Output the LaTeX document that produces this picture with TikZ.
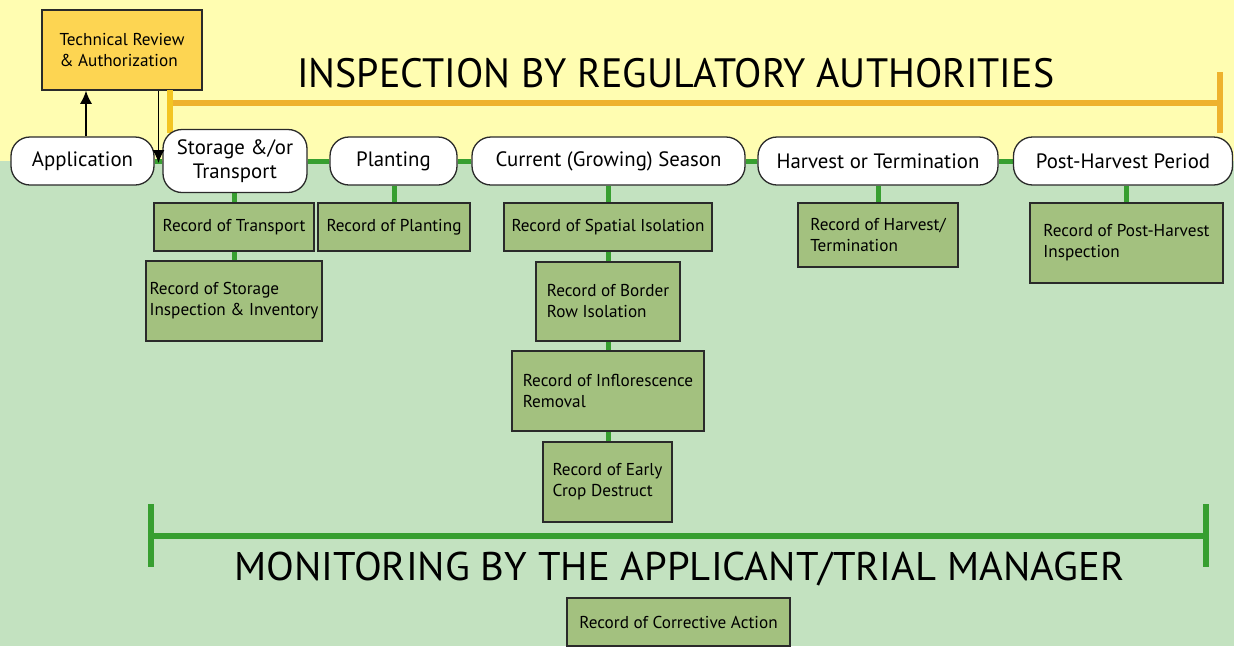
\documentclass[tikz,border=0pt]{standalone}
\usepackage{fontspec}
\usepackage{graphicx}
\setmainfont{PT Sans}
\usetikzlibrary{arrows.meta,calc}

\definecolor{skyyellow}{HTML}{FFFDB1}
\definecolor{fieldgreen}{HTML}{C3E2C0}
\definecolor{recgreen}{HTML}{A3C17F}
\definecolor{reviewgold}{HTML}{FDD552}
\definecolor{barorange}{HTML}{EEB22E}
\definecolor{baryellow}{HTML}{F3C523}
\definecolor{linkgreen}{HTML}{379F30}
\definecolor{edge}{HTML}{2A2A2A}

\pgfdeclarelayer{bg}
\pgfdeclarelayer{links}
\pgfsetlayers{bg,links,main}

\newcommand\pillfont{\fontsize{20.8}{23.5}\selectfont}
\newcommand\recfont{\fontsize{17.2}{21}\selectfont}

\tikzset{
  pill/.style={draw=edge, fill=white, line width=1.3pt, rounded corners=19pt,
    inner sep=0pt, align=center, font=\pillfont},
  rec/.style={draw=edge, fill=recgreen, line width=1.5pt, inner sep=0pt,
    align=left, font=\recfont},
  review/.style={draw=edge, fill=reviewgold, line width=1.5pt, inner sep=0pt,
    align=left, font=\recfont},
  link/.style={linkgreen, line width=5pt},
  flow/.style={black, line width=1.4pt, -{Latex[length=13pt,width=12pt]}},
  orangebar/.style={barorange, line width=6pt},
  greenbar/.style={linkgreen, line width=6pt},
}

\begin{document}
\begin{tikzpicture}[x=1pt,y=-1pt]
\useasboundingbox (0,0) rectangle (1234,646);

% sky and field
\begin{pgfonlayer}{bg}
  \fill[skyyellow] (0,0) rectangle (1234,161);
  \fill[fieldgreen] (0,161) rectangle (1234,646);
\end{pgfonlayer}

% review step
\node[review, minimum width=160pt, minimum height=80pt] (review) at (122,50)
  {Technical Review\\\& Authorization};

% inspection heading and bracket
\node[anchor=base west, inner sep=0pt] (inspect) at (297,87)
  {\resizebox{757pt}{\height}{\fontsize{41}{41}\selectfont INSPECTION BY REGULATORY AUTHORITIES}};
\draw[orangebar] (170,103) -- (1220,103);
\draw[baryellow, line width=6pt] (170,90) -- (170,133);
\draw[orangebar] (1220,72) -- (1220,133);

% stages
\node[pill, minimum width=143pt, minimum height=48pt] (app) at (82.5,161) {Application};
\node[pill, minimum width=144pt, minimum height=63pt] (stor) at (235,161) {Storage \&/or\\Transport};
\node[pill, minimum width=127pt, minimum height=48pt] (plant) at (393.5,161) {Planting};
\node[pill, minimum width=273pt, minimum height=48pt] (curr) at (608.5,161) {Current (Growing) Season};
\node[pill, minimum width=240pt, minimum height=48pt] (harv) at (878,161) {Harvest or Termination};
\node[pill, minimum width=219pt, minimum height=48pt] (post) at (1123,161) {Post-Harvest Period};

% records
\node[rec, minimum width=160pt, minimum height=48pt] (rtrans) at (234,227) {Record of Transport};
\node[rec, minimum width=176pt, minimum height=80pt] (rstore) at (234,301) {Record of Storage\\Inspection \& Inventory};
\node[rec, minimum width=152pt, minimum height=48pt] (rplant) at (394,227) {Record of Planting};
\node[rec, minimum width=208pt, minimum height=48pt] (rspat) at (608,227) {Record of Spatial Isolation};
\node[rec, minimum width=144pt, minimum height=79pt] (rborder) at (608,301.5) {Record of Border\\Row Isolation};
\node[rec, minimum width=192pt, minimum height=80pt] (rinfl) at (608,391) {Record of Inflorescence\\Removal\phantom{ of Inflores}};
\node[rec, minimum width=129pt, minimum height=80pt] (rearly) at (607.5,482) {Record of Early\\Crop Destruct};
\node[rec, minimum width=160pt, minimum height=64pt] (rharv) at (878,235) {Record of Harvest/\\Termination};
\node[rec, minimum width=193pt, minimum height=80pt] (rpost) at (1126.5,243) {Record of Post-Harvest\\Inspection};
\node[rec, minimum width=223pt, minimum height=48pt, align=center] (rcorr) at (678.5,622) {Record of Corrective Action};

% monitoring heading and bracket
\draw[greenbar] (151,536) -- (1206,536);
\draw[greenbar] (151,504) -- (151,567);
\draw[greenbar] (1206,504) -- (1206,567);
\node[anchor=base west, inner sep=0pt] (monitor) at (234,580)
  {\resizebox{890pt}{\height}{\fontsize{40}{40}\selectfont MONITORING BY THE APPLICANT/TRIAL MANAGER}};

% green links along the timeline and down to the records
\begin{pgfonlayer}{links}
  \draw[link] (app.east) -- (stor.west);
  \draw[link] (stor.east) -- (plant.west);
  \draw[link] (plant.east) -- (curr.west);
  \draw[link] (curr.east) -- (harv.west);
  \draw[link] (harv.east) -- (post.west);
  \draw[link] (rtrans.north) -- (rtrans.north |- stor.south);
  \draw[link] (rtrans.south) -- (rtrans.south |- rstore.north);
  \draw[link] (rplant.north) -- (rplant.north |- plant.south);
  \draw[link] (rspat.north) -- (rspat.north |- curr.south);
  \draw[link] (rspat.south) -- (rspat.south |- rborder.north);
  \draw[link] (rborder.south) -- (rborder.south |- rinfl.north);
  \draw[link] (rinfl.south) -- (rinfl.south |- rearly.north);
  \draw[link] (rharv.north) -- (rharv.north |- harv.south);
  \draw[link] (rpost.north) -- (rpost.north |- post.south);
\end{pgfonlayer}

% application goes to review, review releases to storage/transport
\coordinate (gap) at ($(app.east)!0.5!(stor.west)$);
\draw[flow] ([xshift=3.5pt]app.north) -- ([xshift=3.5pt]app.north |- review.south);
\draw[flow] (review.south -| gap) -- ([yshift=-2pt]gap);
\end{tikzpicture}
\end{document}
